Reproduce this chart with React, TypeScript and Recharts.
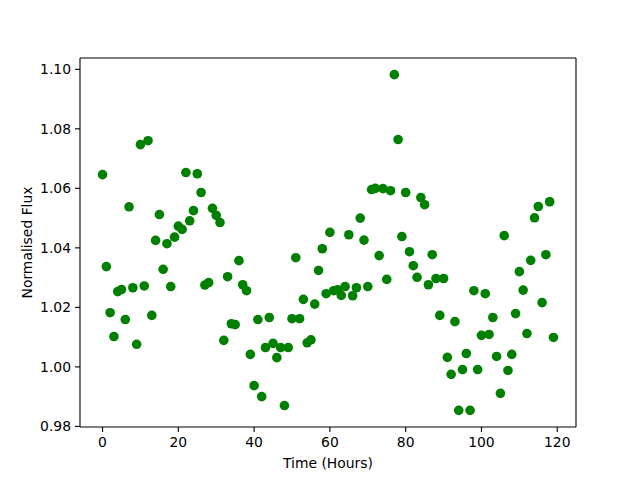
import React from 'react';
import { ScatterChart, Scatter, XAxis, YAxis, ReferenceLine } from 'recharts';

const hours = [
  0, 1, 2, 3, 4, 5, 6, 7, 8, 9, 10, 11, 12, 13, 14, 15, 16, 17, 18, 19,
  20, 21, 22, 23, 24, 25, 26, 27, 28, 29, 30, 31, 32, 33, 34, 35, 36, 37, 38, 39,
  40, 41, 42, 43, 44, 45, 46, 47, 48, 49, 50, 51, 52, 53, 54, 55, 56, 57, 58, 59,
  60, 61, 62, 63, 64, 65, 66, 67, 68, 69, 70, 71, 72, 73, 74, 75, 76, 77, 78, 79,
  80, 81, 82, 83, 84, 85, 86, 87, 88, 89, 90, 91, 92, 93, 94, 95, 96, 97, 98, 99,
  100, 101, 102, 103, 104, 105, 106, 107, 108, 109, 110, 111, 112, 113, 114, 115, 116, 117, 118, 119,
];

const flux = [
  1.0646, 1.0337, 1.0182, 1.0102, 1.0253, 1.026, 1.0159, 1.0538, 1.0266, 1.0076,
  1.0747, 1.0272, 1.076, 1.0173, 1.0425, 1.0512, 1.0328, 1.0414, 1.027, 1.0436,
  1.0473, 1.0462, 1.0653, 1.0491, 1.0525, 1.0649, 1.0586, 1.0275, 1.0283, 1.0533,
  1.0509, 1.0485, 1.0089, 1.0303, 1.0145, 1.0142, 1.0357, 1.0276, 1.0256, 1.0042,
  0.9937, 1.0159, 0.99, 1.0065, 1.0166, 1.0079, 1.0031, 1.0065, 0.987, 1.0065,
  1.0162, 1.0367, 1.0162, 1.0227, 1.0081, 1.0091, 1.0211, 1.0324, 1.0397, 1.0246,
  1.0452, 1.0256, 1.0259, 1.024, 1.027, 1.0444, 1.0239, 1.0266, 1.05, 1.0426,
  1.027, 1.0596, 1.06, 1.0374, 1.0599, 1.0294, 1.0592, 1.0982, 1.0764, 1.0438,
  1.0586, 1.0387, 1.034, 1.0301, 1.0569, 1.0545, 1.0276, 1.0377, 1.0297, 1.0173,
  1.0297, 1.0032, 0.9975, 1.0152, 0.9854, 0.9991, 1.0045, 0.9854, 1.0256, 0.9991,
  1.0106, 1.0246, 1.0109, 1.0166, 1.0035, 0.9911, 1.0441, 0.9988, 1.0042, 1.0179,
  1.032, 1.0258, 1.0112, 1.0358, 1.0501, 1.0539, 1.0216, 1.0377, 1.0555, 1.0099,
];

const xTicks = [0, 20, 40, 60, 80, 100, 120];
const yTicks = [0.98, 1.0, 1.02, 1.04, 1.06, 1.08, 1.1];
const xDomain = [-5.95, 124.95];
const yDomain = [0.9798, 1.1038];

const data = hours.map((h, i) => ({ h, f: flux[i] }));

const FONT = 'DejaVu Sans';
const FS = 13.9;

const Dot = (props: any) => (
  <circle cx={props.cx} cy={props.cy} r={4.8} fill="#008000" />
);

export default function App() {
  return (
    <div style={{ position: 'absolute', left: 0, top: 0, width: 640, height: 480, background: '#fff' }}>
      <ScatterChart
        width={640}
        height={480}
        margin={{ top: 58, right: 64, bottom: 8, left: 0 }}
      >
        <XAxis
          type="number"
          dataKey="h"
          domain={xDomain}
          ticks={xTicks}
          allowDataOverflow
          height={45}
          stroke="#000"
          axisLine={{ stroke: '#000', strokeWidth: 1.1 }}
          tickLine={{ stroke: '#000', strokeWidth: 1.1 }}
          tickSize={5}
          tickMargin={5}
          tick={{ fill: '#000', fontSize: FS, fontFamily: FONT }}
          label={{ value: 'Time (Hours)', position: 'insideBottom', offset: 4, fill: '#000', fontSize: FS, fontFamily: FONT }}
        />
        <YAxis
          type="number"
          dataKey="f"
          domain={yDomain}
          ticks={yTicks}
          allowDataOverflow
          width={80}
          axisLine={{ stroke: '#000', strokeWidth: 1.1 }}
          tickLine={{ stroke: '#000', strokeWidth: 1.1 }}
          tickSize={5}
          tickMargin={4}
          tickFormatter={(v: number) => v.toFixed(2)}
          tick={{ fill: '#000', fontSize: FS, fontFamily: FONT }}
          label={{ value: 'Normalised Flux', angle: -90, position: 'insideLeft', offset: 27, fill: '#000', fontSize: FS, fontFamily: FONT, style: { textAnchor: 'middle' } }}
        />
        <ReferenceLine y={yDomain[1]} stroke="#000" strokeWidth={1.1} />
        <ReferenceLine x={xDomain[1]} stroke="#000" strokeWidth={1.1} />
        <Scatter data={data} shape={Dot} isAnimationActive={false} />
      </ScatterChart>
    </div>
  );
}
